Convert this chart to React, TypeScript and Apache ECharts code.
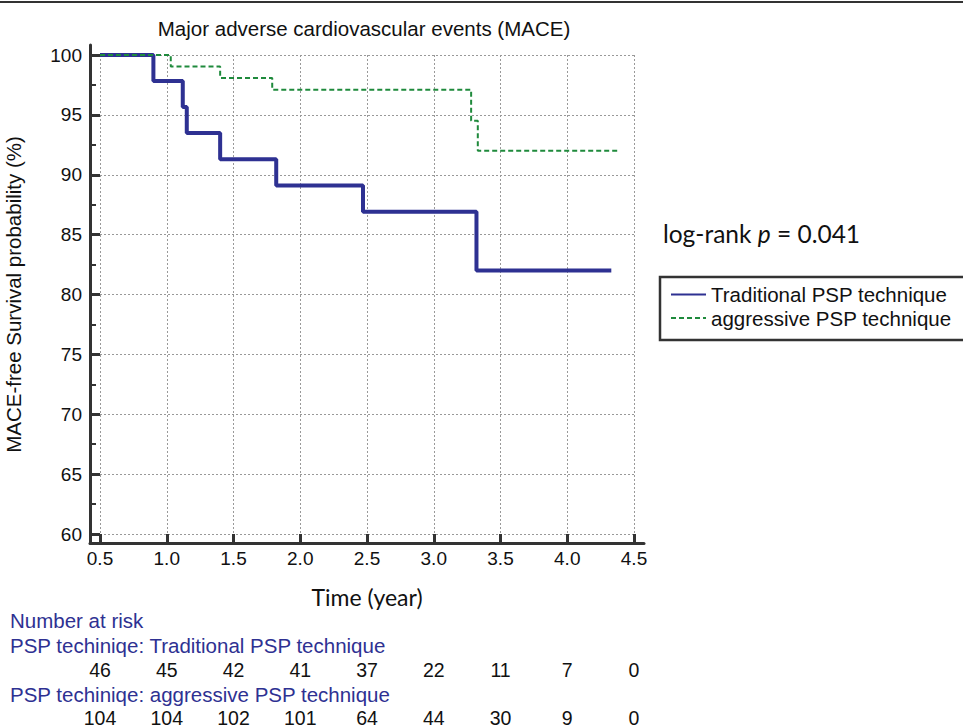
import { useEffect, useRef } from "react";
import * as echarts from "echarts";

const chartTitle = "Major adverse cardiovascular events (MACE)";
const seriesNames = ["Traditional PSP technique", "aggressive PSP technique"];
// Kaplan-Meier steps: [time (year), survival %]
const traditionalCurve: number[][] = [
  [0.5, 100], [0.9, 97.83], [1.12, 95.65], [1.15, 93.48], [1.4, 91.3],
  [1.82, 89.1], [2.47, 86.9], [3.32, 82.0], [4.33, 82.0],
];
const aggressiveCurve: number[][] = [
  [0.5, 100], [1.03, 99.04], [1.4, 98.08], [1.79, 97.1], [3.28, 94.5],
  [3.33, 92.0], [4.38, 92.0],
];
const timeTicks = [0.5, 1.0, 1.5, 2.0, 2.5, 3.0, 3.5, 4.0, 4.5];
const riskTraditional = [46, 45, 42, 41, 37, 22, 11, 7, 0];
const riskAggressive = [104, 104, 102, 101, 64, 44, 30, 9, 0];

const ARIAL = "'Liberation Sans', Arial, sans-serif";
const CALIBRI = "Lato, 'Open Sans', sans-serif";
const NAVY = "#2E3192";
const GREEN = "#1F8A3C";
const AXIS = "#333333";

function riskLabel(arr: number[]) {
  return (v: number) => {
    const i = timeTicks.findIndex((t) => Math.abs(t - v) < 1e-6);
    return i >= 0 ? String(arr[i]) : "";
  };
}

export default function App() {
  const ref = useRef<HTMLDivElement>(null);
  useEffect(() => {
    if (!ref.current) return;
    const chart = echarts.init(ref.current, null, { renderer: "svg" });
    const xMin = timeTicks[0];
    const xMax = timeTicks[timeTicks.length - 1];
    const riskAxis = (arr: number[], offset: number) => ({
      type: "value",
      gridIndex: 0,
      position: "bottom",
      min: xMin,
      max: xMax,
      interval: 0.5,
      offset,
      axisLine: { show: false },
      axisTick: { show: false },
      splitLine: { show: false },
      axisLabel: {
        margin: 0,
        fontFamily: ARIAL,
        fontSize: 19.5,
        color: "#111",
        showMinLabel: true,
        showMaxLabel: true,
        formatter: riskLabel(arr),
      },
    });
    chart.setOption({
      animation: false,
      backgroundColor: "#ffffff",
      grid: [
        { left: 100, top: 55, width: 534, height: 479, containLabel: false, outerBoundsMode: "none" },
        { left: 90, top: 45, width: 554, height: 498, containLabel: false, outerBoundsMode: "none" },
      ],
      legend: {
        left: 660,
        top: 277,
        orient: "vertical",
        itemWidth: 35,
        itemHeight: 14,
        itemGap: 2.5,
        padding: [7, 10, 12, 10],
        borderWidth: 0,
        data: seriesNames,
        itemStyle: { opacity: 0 },
        textStyle: { fontFamily: ARIAL, fontSize: 20.5, color: "#111" },
      },
      xAxis: [
        {
          type: "value",
          gridIndex: 0,
          min: xMin,
          max: xMax,
          interval: 0.5,
          offset: 9,
          axisLine: { show: false },
          axisTick: { show: true, inside: true, length: 9, lineStyle: { color: AXIS, width: 3 } },
          axisLabel: {
            margin: 6,
            fontFamily: ARIAL,
            fontSize: 19,
            color: "#111",
            formatter: (v: number) => v.toFixed(1),
          },
          splitLine: { show: true, lineStyle: { color: "#999", width: 1, type: [2, 2] } },
          name: "Time (year)",
          nameLocation: "middle",
          nameGap: 42,
          nameTextStyle: { fontFamily: CALIBRI, fontSize: 23, color: "#111" },
        },
        {
          type: "value",
          gridIndex: 1,
          min: 0,
          max: 1,
          axisLine: { show: true, lineStyle: { color: AXIS, width: 3 } },
          axisTick: { show: false },
          axisLabel: { show: false },
          splitLine: { show: false },
        },
        riskAxis(riskTraditional, 126),
        riskAxis(riskAggressive, 174),
      ],
      yAxis: [
        {
          type: "value",
          gridIndex: 0,
          min: 60,
          max: 100,
          interval: 5,
          offset: 10,
          axisLine: { show: false },
          axisTick: { show: true, inside: true, length: 10, lineStyle: { color: AXIS, width: 3 } },
          minorTick: { show: true, splitNumber: 2, length: 6, lineStyle: { color: AXIS, width: 2 } },
          axisLabel: { margin: 8, fontFamily: ARIAL, fontSize: 19, color: "#111" },
          splitLine: { show: true, lineStyle: { color: "#999", width: 1, type: [2, 2] } },
          name: "MACE-free Survival probability (%)",
          nameLocation: "middle",
          nameRotate: 90,
          nameGap: 66,
          nameTextStyle: { fontFamily: ARIAL, fontSize: 20.5, color: "#111" },
        },
        {
          type: "value",
          gridIndex: 1,
          min: 0,
          max: 1,
          axisLine: { show: true, lineStyle: { color: AXIS, width: 3 } },
          axisTick: { show: false },
          axisLabel: { show: false },
          splitLine: { show: false },
        },
      ],
      series: [
        {
          name: seriesNames[0],
          type: "line",
          xAxisIndex: 0,
          yAxisIndex: 0,
          step: "end",
          symbol: "none",
          data: traditionalCurve,
          lineStyle: { color: NAVY, width: 4 },
          itemStyle: { color: NAVY },
          z: 4,
        },
        {
          name: seriesNames[1],
          type: "line",
          xAxisIndex: 0,
          yAxisIndex: 0,
          step: "end",
          symbol: "none",
          data: aggressiveCurve,
          lineStyle: { color: GREEN, width: 2, type: [5, 3] },
          itemStyle: { color: GREEN },
          z: 5,
        },
      ],
      graphic: [
        {
          type: "line",
          shape: { x1: 0, y1: 2, x2: 963, y2: 2 },
          style: { stroke: AXIS, lineWidth: 2 },
        },
        {
          type: "rect",
          shape: { x: 660, y: 277, width: 330, height: 63 },
          style: { fill: "none", stroke: AXIS, lineWidth: 2.5 },
        },
        {
          type: "text",
          x: 364,
          y: 28,
          style: {
            text: chartTitle,
            fontFamily: ARIAL,
            fontSize: 20.5,
            fill: "#111",
            align: "center",
            verticalAlign: "middle",
          },
        },
        {
          type: "text",
          x: 663,
          y: 233,
          style: {
            text: "{n|log-rank }{i|p}{n| = 0.041}",
            verticalAlign: "middle",
            rich: {
              n: { fontFamily: CALIBRI, fontSize: 24.5, fill: "#111" },
              i: { fontFamily: CALIBRI, fontSize: 24.5, fontStyle: "italic", fill: "#111" },
            },
          },
        },
        {
          type: "text",
          x: 10,
          y: 620,
          style: { text: "Number at risk", fontFamily: ARIAL, fontSize: 20.5, fill: NAVY, verticalAlign: "middle" },
        },
        {
          type: "text",
          x: 10,
          y: 645,
          style: {
            text: "PSP techiniqe: " + seriesNames[0],
            fontFamily: ARIAL,
            fontSize: 20.5,
            fill: NAVY,
            verticalAlign: "middle",
          },
        },
        {
          type: "text",
          x: 10,
          y: 694,
          style: {
            text: "PSP techiniqe: " + seriesNames[1],
            fontFamily: ARIAL,
            fontSize: 20.5,
            fill: NAVY,
            verticalAlign: "middle",
          },
        },
      ],
    });
    return () => chart.dispose();
  }, []);
  return (
    <div
      ref={ref}
      style={{ position: "absolute", left: 0, top: 0, width: 963, height: 728, background: "#fff" }}
    />
  );
}
